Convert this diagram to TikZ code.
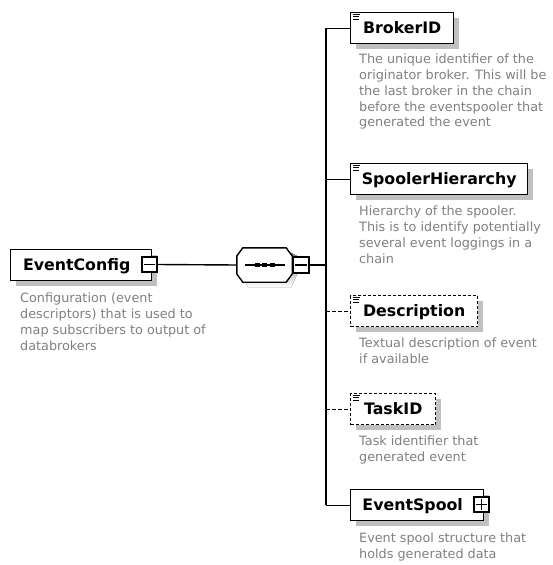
\documentclass[tikz,border=0pt]{standalone}
\usepackage{fontspec}
\setmainfont{DejaVu Sans}
\usetikzlibrary{shadows,calc}

\definecolor{shade}{RGB}{192,192,192}
\definecolor{notegray}{RGB}{128,128,128}

\tikzset{
  x=1pt, y=-1pt,
  elem/.style={draw, line width=1.4pt, fill=white, rectangle, anchor=north west,
    minimum height=31pt, inner sep=0pt, text height=11.5pt, text depth=0pt,
    font=\bfseries\fontsize{15.8}{18}\selectfont,
    drop shadow={shadow xshift=5pt, shadow yshift=-5pt, fill=shade, opacity=1}},
  optelem/.style={elem, dash pattern=on 3pt off 2pt},
  note/.style={anchor=north west, align=left, inner sep=0pt, text=notegray,
    font=\fontsize{12.8}{15.75}\selectfont},
  wire/.style={line width=1.4pt},
  optwire/.style={wire, dash pattern=on 3.5pt off 2.5pt},
  expander/.style={draw, line width=1.4pt, fill=white, rectangle, inner sep=0pt,
    minimum width=15pt, minimum height=15pt},
  glyph/.style={line width=1.1pt},
}

% small "simple content" marker in the top left corner of an element
\newcommand{\contentmark}[1]{%
  \draw[glyph] ($(#1.north west)+(3,2.5)$) -- ++(7,0);
  \draw[glyph] ($(#1.north west)+(3,4.8)$) -- ++(6,0);
  \draw[glyph] ($(#1.north west)+(3,7.1)$) -- ++(6,0);
}

\begin{document}
\begin{tikzpicture}
\useasboundingbox (0,0) rectangle (553,565);

% ---- root element
\node[elem, minimum width=141pt] (ec) at (10,249) {EventConfig\hspace*{9pt}};
\node[expander] (ecx) at (149.5,264.5) {};
\draw[glyph] ($(ecx.west)+(3,0)$) -- ($(ecx.east)+(-3,0)$);
\node[note] (ecn) at (20,293) {Configuration (event\\descriptors) that is used to\\map subscribers to output of\\databrokers};

% ---- sequence compositor
\node[rectangle, minimum width=55pt, minimum height=34pt, inner sep=0pt] (seq) at (264.5,265) {};
\fill[shade] ($(seq.north west)+(11,5)$) -- ($(seq.north east)+(-1,5)$) -- ($(seq.east)+(5,-9)$)
  -- ($(seq.east)+(5,9)$) -- ($(seq.south east)+(-1,5)$) -- ($(seq.south west)+(11,5)$)
  -- ($(seq.west)+(5,9)$) -- ($(seq.west)+(5,-9)$) -- cycle;
\draw[wire, fill=white] ($(seq.north west)+(6,0)$) -- ($(seq.north east)+(-6,0)$)
  -- ($(seq.east)+(0,-9)$) -- ($(seq.east)+(0,9)$) -- ($(seq.south east)+(-6,0)$)
  -- ($(seq.south west)+(6,0)$) -- ($(seq.west)+(0,9)$) -- ($(seq.west)+(0,-9)$) -- cycle;
\draw[glyph] ($(seq.center)+(-20,0)$) -- ($(seq.center)+(20,0)$);
\foreach \dx in {-7.5,0,7.5}
  \fill ($(seq.center)+(\dx-2.5,-2)$) rectangle ++(5,4);
\node[expander, minimum width=16pt, minimum height=16pt, anchor=west] (sqx) at (seq.east) {};
\draw[glyph] ($(sqx.west)+(3,0)$) -- ($(sqx.east)+(-3,0)$);

% ---- child elements
\node[elem, minimum width=103pt] (br) at (350,12) {BrokerID};
\contentmark{br}
\node[note] (brn) at (359,54) {The unique identifier of the\\originator broker. This will be\\the last broker in the chain\\before the eventspooler that\\generated the event};

\node[elem, minimum width=177pt] (sh) at (350,163) {SpoolerHierarchy};
\contentmark{sh}
\node[note] (shn) at (359,206) {Hierarchy of the spooler.\\This is to identify potentially\\several event loggings in a\\chain};

\node[optelem, minimum width=127pt] (de) at (350,295) {Description};
\contentmark{de}
\node[note] (den) at (359,338) {Textual description of event\\if available};

\node[optelem, minimum width=85pt] (ti) at (350,393) {TaskID};
\contentmark{ti}
\node[note] (tin) at (359,436) {Task identifier that\\generated event};

\node[elem, minimum width=133pt] (es) at (350,489) {EventSpool\hspace*{9pt}};
\node[expander] (esx) at (481.5,504.5) {};
\draw[glyph] ($(esx.west)+(3,0)$) -- ($(esx.east)+(-3,0)$);
\draw[glyph] ($(esx.north)+(0,3)$) -- ($(esx.south)+(0,-3)$);
\node[note] (esn) at (359,533) {Event spool structure that\\holds generated data};

% ---- connectors
\coordinate (bar) at (326,0);
\draw[wire] (ecx.east) -- (seq.west);
\draw[wire] (sqx.east) -- (bar |- sqx.east);
\draw[wire] (bar |- br.west) -- (bar |- es.west);
\draw[wire] (bar |- br.west) -- (br.west);
\draw[wire] (bar |- sh.west) -- (sh.west);
\draw[optwire] (bar |- de.west) -- (de.west);
\draw[optwire] (bar |- ti.west) -- (ti.west);
\draw[wire] (bar |- es.west) -- (es.west);
\end{tikzpicture}
\end{document}
